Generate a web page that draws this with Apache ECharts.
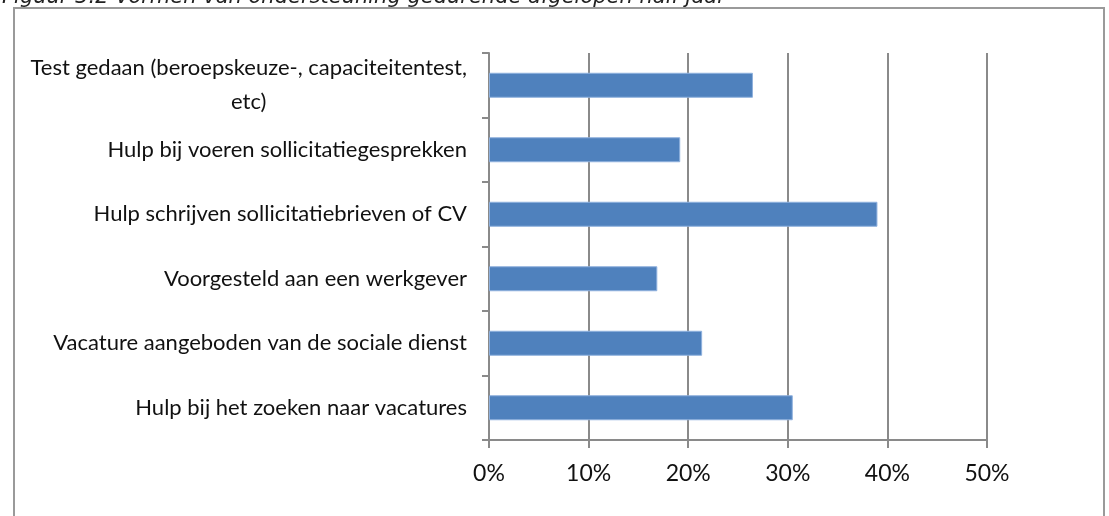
<!DOCTYPE html>
<html>
<head>
<meta charset="utf-8">
<script src="https://cdn.jsdelivr.net/npm/echarts@6/dist/echarts.min.js"></script>
<style>
  html, body { margin: 0; padding: 0; background: #fff; }
  #chart { width: 1109px; height: 516px; }
</style>
</head>
<body>
<div id="chart"></div>
<script>
// categories, top to bottom
const categories = [
  'Test gedaan (beroepskeuze-, capaciteitentest,\netc)',
  'Hulp bij voeren sollicitatiegesprekken',
  'Hulp schrijven sollicitatiebrieven of CV',
  'Voorgesteld aan een werkgever',
  'Vacature aangeboden van de sociale dienst',
  'Hulp bij het zoeken naar vacatures'
];
// share of respondents (fraction)
const values = [0.265, 0.192, 0.390, 0.169, 0.214, 0.305];
const xTicks = ['0%', '10%', '20%', '30%', '40%', '50%'];
const titleText = 'Figuur 3.2 Vormen van ondersteuning gedurende afgelopen half jaar';

const chart = echarts.init(document.getElementById('chart'));
const gray = '#8a8a8a';

chart.setOption({
  animation: false,
  textStyle: { fontFamily: 'Lato' },
  graphic: [
    {
      type: 'text',
      left: 2,
      top: -13,
      style: {
        text: titleText,
        font: 'italic 21px "DejaVu Sans"',
        fill: '#222'
      }
    },
    {
      type: 'rect',
      shape: { x: 14, y: 8, width: 1090, height: 530 },
      style: { fill: 'none', stroke: '#9a9a9a', lineWidth: 2 }
    }
  ],
  grid: { left: 489, right: 122, top: 53, bottom: 76 },
  xAxis: {
    type: 'value',
    min: 0,
    max: 0.5,
    interval: 0.1,
    axisLine: { show: true, lineStyle: { color: gray, width: 2 } },
    axisTick: { show: true, length: 8, lineStyle: { color: gray, width: 2 } },
    splitLine: { show: true, lineStyle: { color: gray, width: 2 } },
    axisLabel: {
      margin: 22,
      fontSize: 23,
      color: '#111',
      formatter: function (v) { return xTicks[Math.round(v * 10)]; }
    }
  },
  yAxis: {
    type: 'category',
    inverse: true,
    data: categories,
    axisLine: { show: true, lineStyle: { color: gray, width: 2 } },
    axisTick: { show: true, length: 7, lineStyle: { color: gray, width: 2 } },
    axisLabel: {
      margin: 22,
      fontSize: 22,
      color: '#111',
      formatter: function (v) {
        return v.split('\n').map(function (s) { return '{c|' + s + '}'; }).join('\n');
      },
      rich: {
        c: { align: 'center', fontSize: 22, lineHeight: 34, color: '#111', fontFamily: 'Lato' }
      }
    }
  },
  series: [{
    type: 'bar',
    data: values,
    barWidth: 25,
    itemStyle: { color: '#4f81bd', borderColor: '#8fb1de', borderWidth: 1 }
  }]
});
</script>
</body>
</html>
